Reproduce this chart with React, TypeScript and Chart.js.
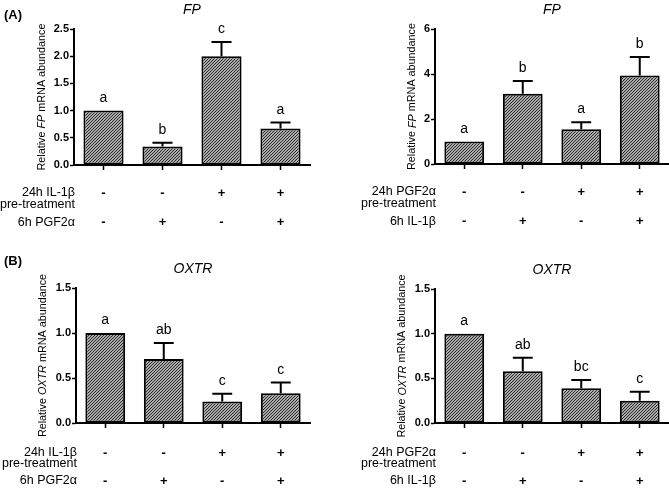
import React, { useEffect, useRef } from 'react';
import { Chart, registerables } from 'chart.js';

Chart.register(...registerables);

const FONT = '"Liberation Sans", Arial, Helvetica, sans-serif';

const groups = ['G1', 'G2', 'G3', 'G4'];

// (A) left: FP, IL-1β pre-treatment / PGF2α
const fpIL1Means = [1.0, 0.34, 2.0, 0.67];
const fpIL1Errors = [0, 0.07, 0.26, 0.11];
const fpIL1Letters = ['a', 'b', 'c', 'a'];
const fpIL1Ticks = [0, 0.5, 1.0, 1.5, 2.0, 2.5];

// (A) right: FP, PGF2α pre-treatment / IL-1β
const fpPGFMeans = [1.0, 3.12, 1.54, 3.93];
const fpPGFErrors = [0, 0.57, 0.32, 0.83];
const fpPGFLetters = ['a', 'b', 'a', 'b'];
const fpPGFTicks = [0, 2, 4, 6];

// (B) left: OXTR, IL-1β pre-treatment / PGF2α
const oxtrIL1Means = [1.0, 0.71, 0.24, 0.33];
const oxtrIL1Errors = [0, 0.18, 0.085, 0.12];
const oxtrIL1Letters = ['a', 'ab', 'c', 'c'];

// (B) right: OXTR, PGF2α pre-treatment / IL-1β
const oxtrPGFMeans = [1.0, 0.58, 0.39, 0.25];
const oxtrPGFErrors = [0, 0.15, 0.09, 0.1];
const oxtrPGFLetters = ['a', 'ab', 'bc', 'c'];
const oxtrTicks = [0, 0.5, 1.0, 1.5];

// treatment table rows
const preTreatRow = ['-', '-', '+', '+'];
const postTreatRow = ['-', '+', '-', '+'];
const il1PreLabel = ['24h IL-1β', 'pre-treatment'];
const pgfPostLabel = '6h PGF2α';
const pgfPreLabel = ['24h PGF2α', 'pre-treatment'];
const il1PostLabel = '6h IL-1β';

type Box = {
  x: number; y: number; w: number; h: number;
  left: number; right: number; top: number; bottom: number;
  titleX: number; rows: number[];
};

type PanelProps = {
  means: number[]; errors: number[]; letters: string[]; ticks: number[];
  decimals: number; gene: string; tag?: string;
  preLabel: string[]; postLabel: string;
  preRow: string[]; postRow: string[];
  box: Box;
};

function makePattern(): CanvasPattern | string {
  const s = 3;
  const c = document.createElement('canvas');
  c.width = s; c.height = s;
  const g = c.getContext('2d');
  if (!g) return '#888';
  g.fillStyle = '#e6e6e6';
  g.fillRect(0, 0, s, s);
  g.strokeStyle = '#1e1e1e';
  g.lineWidth = 1.1;
  g.beginPath();
  g.moveTo(-1, s + 1); g.lineTo(s + 1, -1);
  g.moveTo(-1, 1); g.lineTo(1, -1);
  g.moveTo(s - 1, s + 1); g.lineTo(s + 1, s - 1);
  g.stroke();
  return g.createPattern(c, 'repeat') || '#888';
}

function Panel(p: PanelProps) {
  const ref = useRef<HTMLCanvasElement>(null);
  useEffect(() => {
    const canvas = ref.current;
    if (!canvas) return;
    const b = p.box;
    const XH = 10;
    const pattern = makePattern();

    const extras = {
      id: 'extras',
      afterDatasetsDraw(chart: any) {
        const ctx = chart.ctx as CanvasRenderingContext2D;
        const xs = chart.scales.x;
        const ys = chart.scales.y;
        const meta = chart.getDatasetMeta(0);
        ctx.save();
        ctx.strokeStyle = '#000';
        ctx.lineWidth = 2;
        p.means.forEach((m, i) => {
          const e = p.errors[i];
          const bar: any = meta.data[i];
          const cx = xs.getPixelForValue(i);
          const yTop = ys.getPixelForValue(m + e);
          if (e > 0) {
            const y0 = ys.getPixelForValue(m);
            const hw = bar.width / 4;
            ctx.beginPath();
            ctx.moveTo(cx, y0);
            ctx.lineTo(cx, yTop);
            ctx.moveTo(cx - hw, yTop);
            ctx.lineTo(cx + hw, yTop);
            ctx.stroke();
          }
          ctx.fillStyle = '#000';
          ctx.font = `14px ${FONT}`;
          ctx.textAlign = 'center';
          ctx.textBaseline = 'alphabetic';
          ctx.fillText(p.letters[i], cx, yTop - 9);
        });
        ctx.restore();
      },
      afterDraw(chart: any) {
        const ctx = chart.ctx as CanvasRenderingContext2D;
        const area = chart.chartArea;
        const xs = chart.scales.x;
        ctx.save();
        ctx.fillStyle = '#000';
        // gene title
        ctx.font = `italic 14px ${FONT}`;
        ctx.textAlign = 'center';
        ctx.textBaseline = 'middle';
        ctx.fillText(p.gene, (area.left + area.right) / 2, area.top - 19);
        // panel tag
        if (p.tag) {
          ctx.font = `bold 13px ${FONT}`;
          ctx.textAlign = 'left';
          ctx.fillText(p.tag, 4, area.top < 35 ? 15 : 17);
        }
        // y title with italic gene name
        const parts: [string, boolean][] = [['Relative ', false], [p.gene, true], [' mRNA abundance', false]];
        const fontFor = (it: boolean) => `${it ? 'italic ' : ''}10.8px ${FONT}`;
        let total = 0;
        parts.forEach(([t, it]) => { ctx.font = fontFor(it); total += ctx.measureText(t).width; });
        ctx.translate(b.titleX, (area.top + area.bottom) / 2);
        ctx.rotate(-Math.PI / 2);
        ctx.textAlign = 'left';
        ctx.textBaseline = 'middle';
        let x = -total / 2;
        parts.forEach(([t, it]) => {
          ctx.font = fontFor(it);
          ctx.fillText(t, x, 0);
          x += ctx.measureText(t).width;
        });
        ctx.setTransform(1, 0, 0, 1, 0, 0);
        // treatment table
        ctx.font = `12.5px ${FONT}`;
        ctx.textBaseline = 'middle';
        ctx.textAlign = 'right';
        const lx = area.left + 1;
        ctx.fillText(p.preLabel[0], lx, area.bottom + b.rows[0]);
        ctx.fillText(p.preLabel[1], lx, area.bottom + b.rows[1]);
        ctx.fillText(p.postLabel, lx, area.bottom + b.rows[2]);
        ctx.textAlign = 'center';
        ctx.font = `bold 13px ${FONT}`;
        p.preRow.forEach((s, i) => {
          ctx.fillText(s, xs.getPixelForValue(i), area.bottom + b.rows[0]);
        });
        p.postRow.forEach((s, i) => {
          ctx.fillText(s, xs.getPixelForValue(i), area.bottom + b.rows[2]);
        });
        ctx.restore();
      },
    };

    const chart = new Chart(canvas, {
      type: 'bar',
      data: {
        labels: groups,
        datasets: [{
          data: p.means,
          backgroundColor: pattern as any,
          borderColor: '#000',
          borderWidth: 2,
          borderSkipped: false,
          barPercentage: 0.68,
          categoryPercentage: 1,
        }],
      },
      options: {
        responsive: false,
        animation: false,
        devicePixelRatio: 1,
        layout: { padding: { left: 0, right: b.w - b.right, top: b.top, bottom: b.h - b.bottom - XH } },
        plugins: { legend: { display: false }, tooltip: { enabled: false }, title: { display: false } },
        scales: {
          x: {
            grid: { display: true, drawOnChartArea: false, drawTicks: true, tickLength: 5, tickWidth: 1.5, tickColor: '#000', offset: false },
            border: { display: true, color: '#000', width: 2 },
            ticks: { display: false },
            afterFit: (s: any) => { s.height = XH; },
          },
          y: {
            min: p.ticks[0],
            max: p.ticks[p.ticks.length - 1],
            grid: { display: true, drawOnChartArea: false, drawTicks: true, tickLength: 4, tickWidth: 1.5, tickColor: '#000' },
            border: { display: true, color: '#000', width: 2 },
            ticks: {
              color: '#000',
              padding: 1,
              font: { family: FONT, size: 11, weight: 'bold' },
              callback: (v: any) => Number(v).toFixed(p.decimals),
            },
            afterBuildTicks: (s: any) => { s.ticks = p.ticks.map((v) => ({ value: v })); },
            afterFit: (s: any) => { s.width = b.left; },
          },
        },
      },
      plugins: [extras],
    });
    return () => chart.destroy();
  }, []);
  const b = p.box;
  return (
    <canvas
      ref={ref}
      width={b.w}
      height={b.h}
      style={{ position: 'absolute', left: b.x, top: b.y, width: b.w, height: b.h }}
    />
  );
}

export default function App() {
  return (
    <div style={{ position: 'absolute', left: 0, top: 0, width: 669, height: 488, background: '#fff', overflow: 'hidden' }}>
      <Panel
        means={fpIL1Means} errors={fpIL1Errors} letters={fpIL1Letters} ticks={fpIL1Ticks} decimals={1}
        gene="FP" tag="(A)" preLabel={il1PreLabel} postLabel={pgfPostLabel}
        preRow={preTreatRow} postRow={postTreatRow}
        box={{ x: 0, y: 0, w: 335, h: 244, left: 74, right: 310, top: 29, bottom: 165, titleX: 42, rows: [28, 40, 57.5] }}
      />
      <Panel
        means={fpPGFMeans} errors={fpPGFErrors} letters={fpPGFLetters} ticks={fpPGFTicks} decimals={0}
        gene="FP" preLabel={pgfPreLabel} postLabel={il1PostLabel}
        preRow={preTreatRow} postRow={postTreatRow}
        box={{ x: 335, y: 0, w: 334, h: 244, left: 100, right: 334, top: 29, bottom: 164, titleX: 77.5, rows: [28, 40, 57.5] }}
      />
      <Panel
        means={oxtrIL1Means} errors={oxtrIL1Errors} letters={oxtrIL1Letters} ticks={oxtrTicks} decimals={1}
        gene="OXTR" tag="(B)" preLabel={il1PreLabel} postLabel={pgfPostLabel}
        preRow={preTreatRow} postRow={postTreatRow}
        box={{ x: 0, y: 244, w: 335, h: 244, left: 76, right: 310, top: 44, bottom: 179, titleX: 43, rows: [30, 41, 58] }}
      />
      <Panel
        means={oxtrPGFMeans} errors={oxtrPGFErrors} letters={oxtrPGFLetters} ticks={oxtrTicks} decimals={1}
        gene="OXTR" preLabel={pgfPreLabel} postLabel={il1PostLabel}
        preRow={preTreatRow} postRow={postTreatRow}
        box={{ x: 335, y: 244, w: 334, h: 244, left: 100, right: 334, top: 45, bottom: 179, titleX: 67.5, rows: [30, 41, 58] }}
      />
    </div>
  );
}
